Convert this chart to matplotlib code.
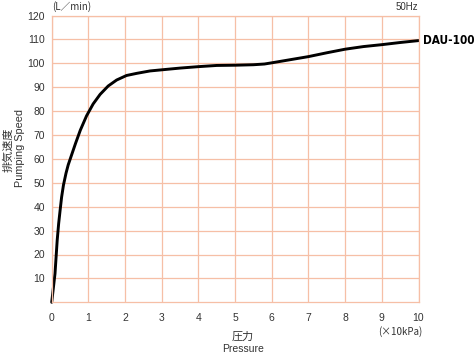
import matplotlib
matplotlib.use("Agg")
import matplotlib.pyplot as plt

plt.rcParams['font.family'] = ['Liberation Sans', 'Noto Sans CJK JP', 'DejaVu Sans']

# 圧力 (×10kPa) と 排気速度 (L/min) 読み取り値
pressure = [0, 0.09, 0.12, 0.15, 0.19, 0.23, 0.27, 0.32, 0.39, 0.45, 0.55, 0.65,
            0.78, 0.95, 1.13, 1.32, 1.54, 1.77, 2.04, 2.32, 2.68, 2.95, 3.5, 4.0,
            4.5, 5.0, 5.5, 5.8, 6.0, 6.5, 7.0, 7.5, 8.0, 8.5, 9.0, 9.5, 10]
speed = [0, 12, 19, 26, 33, 38.6, 44, 49, 54, 57.5, 62, 66.5,
         72, 78, 83, 87, 90.5, 93, 94.9, 95.8, 96.8, 97.2, 98, 98.6,
         99.1, 99.2, 99.4, 99.7, 100.2, 101.5, 102.8, 104.4, 105.9, 107, 107.8, 108.7, 109.5]
xticks = list(range(0, 11))
yticks = list(range(10, 121, 10))
model = "DAU-100"

GRID = "#f6bfa6"
TXT = "#333333"

fig = plt.figure(figsize=(4.74, 3.56), dpi=100)
# プロット領域: x 51.7..418.5 px, y 15.5..302.3 px (上原点)
ax = fig.add_axes([51.7 / 474, 53.7 / 356, 366.8 / 474, 286.8 / 356])
ax.set_xlim(0, 10)
ax.set_ylim(0, 120)
ax.set_xticks(xticks)
ax.set_yticks(yticks)
ax.grid(True, color=GRID, lw=0.9)
for s in ax.spines.values():
    s.set_color(GRID)
    s.set_linewidth(0.9)
ax.tick_params(length=0, labelsize=7.5, labelcolor=TXT)
ax.tick_params(axis="y", pad=5)
ax.tick_params(axis="x", pad=8)
ax.plot(pressure, speed, color="black", lw=2.1, solid_capstyle="round",
        solid_joinstyle="round", clip_on=False)

ax.text(1.012, speed[-1] / 120, model, transform=ax.transAxes, fontsize=8.5,
        fontweight="bold", fontstretch="condensed", family="DejaVu Sans",
        va="center", ha="left")
fig.text(52 / 474, 1 - 6.5 / 356, "(L／min)", fontsize=7, color=TXT, va="center",
         ha="left", family=['Noto Sans CJK JP'])
fig.text(418 / 474, 1 - 6.5 / 356, "50Hz", fontsize=7, color=TXT, va="center", ha="right")
fig.text(400 / 474, 1 - 332 / 356, "(×10kPa)", fontsize=7, color=TXT, va="center",
         ha="center", family=['Noto Sans CJK JP'])
fig.text(243 / 474, 1 - 337 / 356, "圧力", fontsize=8, color=TXT, va="center",
         ha="center", family=['Noto Sans CJK JP'])
fig.text(243 / 474, 1 - 349 / 356, "Pressure", fontsize=7.5, color=TXT, va="center",
         ha="center")
fig.text(8.5 / 474, 1 - 150 / 356, "排気速度", fontsize=8, color=TXT, va="center",
         ha="center", rotation=90, family=['Noto Sans CJK JP'])
fig.text(20 / 474, 1 - 148 / 356, "Pumping Speed", fontsize=7.8, color=TXT,
         va="center", ha="center", rotation=90)

fig.savefig("out.png", dpi=100)
